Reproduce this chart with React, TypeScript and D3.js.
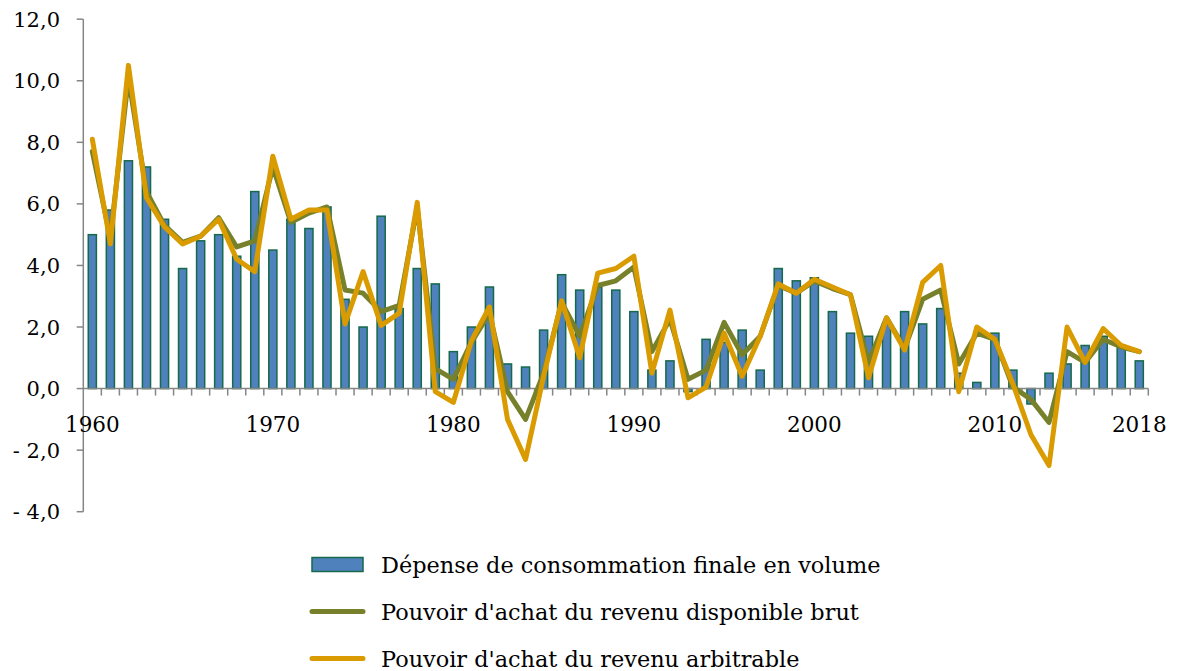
import * as d3 from "d3";

const WIDTH = 1179;
const HEIGHT = 671;
const FONT = "'DejaVu Serif', serif";

const years = d3.range(1960, 2019);
const yearLabels = [1960, 1970, 1980, 1990, 2000, 2010, 2018];
const yTicks = [-4, -2, 0, 2, 4, 6, 8, 10, 12];

// Dépense de consommation finale en volume (bars)
const consumption = [
  5.0, 5.8, 7.4, 7.2, 5.5, 3.9, 4.8, 5.0, 4.3, 6.4,
  4.5, 5.5, 5.2, 5.9, 2.9, 2.0, 5.6, 2.6, 3.9, 3.4,
  1.2, 2.0, 3.3, 0.8, 0.7, 1.9, 3.7, 3.2, 3.3, 3.2,
  2.5, 0.6, 0.9, -0.1, 1.6, 1.5, 1.9, 0.6, 3.9, 3.5,
  3.6, 2.5, 1.8, 1.7, 2.1, 2.5, 2.1, 2.6, 0.5, 0.2,
  1.8, 0.6, -0.5, 0.5, 0.8, 1.4, 1.7, 1.4, 0.9,
];

// Pouvoir d'achat du revenu disponible brut
const rdb = [
  7.7, 4.9, 10.1, 6.4, 5.3, 4.75, 4.95, 5.55, 4.6, 4.8,
  7.2, 5.4, 5.7, 5.9, 3.2, 3.1, 2.5, 2.7, 5.9, 0.65,
  0.3, 1.5, 2.45, -0.1, -1.0, 0.5, 2.8, 1.7, 3.35, 3.5,
  3.95, 1.2, 2.25, 0.3, 0.6, 2.15, 1.1, 1.7, 3.35, 3.1,
  3.5, 3.25, 3.05, 0.85, 2.3, 1.3, 2.9, 3.2, 0.8, 1.8,
  1.6, 0.05, -0.35, -1.1, 1.2, 0.85, 1.6, 1.35, 1.2,
];

// Pouvoir d'achat du revenu arbitrable
const arbitrable = [
  8.1, 4.7, 10.5, 6.2, 5.25, 4.7, 4.95, 5.5, 4.2, 3.8,
  7.55, 5.5, 5.8, 5.8, 2.1, 3.8, 2.05, 2.45, 6.05, -0.1,
  -0.45, 1.55, 2.65, -1.0, -2.3, 0.4, 2.85, 1.0, 3.75, 3.9,
  4.3, 0.5, 2.55, -0.3, 0.05, 1.8, 0.4, 1.7, 3.4, 3.1,
  3.55, 3.3, 3.05, 0.35, 2.3, 1.25, 3.45, 4.0, -0.1, 2.0,
  1.6, 0.15, -1.5, -2.5, 2.0, 0.85, 1.95, 1.4, 1.2,
];

const legendItems = [
  { label: "Dépense de consommation finale en volume", kind: "bar" },
  { label: "Pouvoir d'achat du revenu disponible brut", kind: "rdb" },
  { label: "Pouvoir d'achat du revenu arbitrable", kind: "arb" },
];

const BAR_FILL = "#4f81bd";
const BAR_STROKE = "#16694a";
const RDB_COLOR = "#77812b";
const ARB_COLOR = "#d99b00";
const AXIS_COLOR = "#868686";

const x = d3
  .scaleBand<number>()
  .domain(years)
  .range([83.3, 1148.3])
  .paddingInner(0.55)
  .paddingOuter(0.275);

const y = d3.scaleLinear().domain([-4, 12]).range([511.7, 19.2]);

const cx = (yr: number) => x(yr)! + x.bandwidth() / 2;

const line = d3
  .line<number>()
  .x((_, i) => cx(years[i]))
  .y((d) => y(d));

const fmt = (v: number) => {
  const s = d3.format(".1f")(Math.abs(v)).replace(".", ",");
  return v < 0 ? "- " + s : s;
};

const App = () => {
  const step = x.step();
  const [x0, x1] = x.range();
  return (
    <svg
      width={WIDTH}
      height={HEIGHT}
      style={{ position: "absolute", left: 0, top: 0, background: "#fff" }}
      fontFamily={FONT}
    >
      {/* bars */}
      {consumption.map((v, i) => (
        <rect
          key={years[i]}
          x={x(years[i])}
          y={Math.min(y(v), y(0))}
          width={x.bandwidth()}
          height={Math.abs(y(v) - y(0))}
          fill={BAR_FILL}
          stroke={BAR_STROKE}
          strokeWidth={1.5}
        />
      ))}

      {/* y axis */}
      <line x1={x0} x2={x0} y1={y(12)} y2={y(-4)} stroke={AXIS_COLOR} strokeWidth={1.5} />
      {yTicks.map((t) => (
        <g key={t}>
          <line x1={x0 - 6.6} x2={x0} y1={y(t)} y2={y(t)} stroke={AXIS_COLOR} strokeWidth={1.5} />
          <text x={60} y={y(t)} dy="0.36em" textAnchor="end" fontSize={21} fill="#000">
            {fmt(t)}
          </text>
        </g>
      ))}

      {/* x axis */}
      <line x1={x0} x2={x1} y1={y(0)} y2={y(0)} stroke={AXIS_COLOR} strokeWidth={1.5} />
      {d3.range(1, years.length + 1).map((k) => (
        <line
          key={k}
          x1={x0 + k * step}
          x2={x0 + k * step}
          y1={y(0)}
          y2={y(0) + 7}
          stroke={AXIS_COLOR}
          strokeWidth={1.5}
        />
      ))}
      {yearLabels.map((yr) => (
        <text key={yr} x={cx(yr)} y={432} textAnchor="middle" fontSize={21.5} fill="#000">
          {yr}
        </text>
      ))}

      {/* lines */}
      <path
        d={line(rdb)!}
        fill="none"
        stroke={RDB_COLOR}
        strokeWidth={5}
        strokeLinejoin="round"
        strokeLinecap="round"
      />
      <path
        d={line(arbitrable)!}
        fill="none"
        stroke={ARB_COLOR}
        strokeWidth={5}
        strokeLinejoin="round"
        strokeLinecap="round"
      />

      {/* legend */}
      {legendItems.map((item, i) => {
        const cy = 564.5 + i * 47;
        return (
          <g key={item.label}>
            {item.kind === "bar" ? (
              <rect
                x={312}
                y={cy - 7}
                width={51}
                height={14}
                fill={BAR_FILL}
                stroke={BAR_STROKE}
                strokeWidth={1.5}
              />
            ) : (
              <line
                x1={312}
                x2={363}
                y1={cy}
                y2={cy}
                stroke={item.kind === "rdb" ? RDB_COLOR : ARB_COLOR}
                strokeWidth={5}
                strokeLinecap="round"
              />
            )}
            <text x={381} y={cy} dy="0.36em" fontSize={22.4} fill="#000">
              {item.label}
            </text>
          </g>
        );
      })}
    </svg>
  );
};

export default App;
